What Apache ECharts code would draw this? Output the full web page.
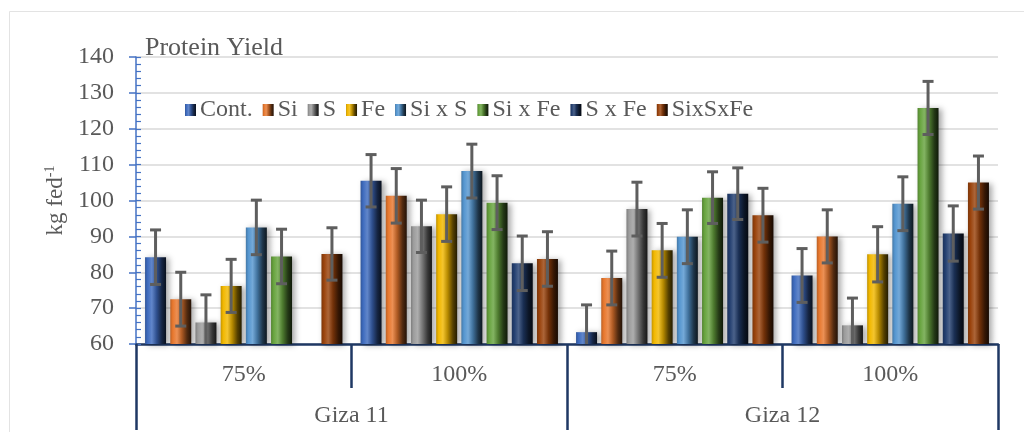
<!DOCTYPE html>
<html>
<head>
<meta charset="utf-8">
<script src="https://cdn.jsdelivr.net/npm/echarts@6/dist/echarts.min.js"></script>
<style>html,body{margin:0;padding:0;background:#fff}#c{width:1024px;height:432px}</style>
</head>
<body>
<div id="c"></div>
<script>
// ---- data ----
var categories = ['75%', '100%', '75%', '100%'];
var cultivars = ['Giza 11', 'Giza 12'];
var seriesNames = ['Cont.', 'Si', 'S', 'Fe', 'Si x S', 'Si x Fe', 'S x Fe', 'SixSxFe'];
var yTicks = [60, 70, 80, 90, 100, 110, 120, 130, 140];

var contVals    = [84.2, 105.5, 63.3, 79.1];
var siVals      = [72.5, 101.3, 78.4, 90.0];
var sVals       = [66.0, 92.8, 97.6, 65.2];
var feVals      = [76.2, 96.2, 86.1, 85.0];
var sixsVals    = [92.5, 108.2, 89.9, 99.1];
var sixfeVals   = [84.4, 99.4, 100.8, 125.8];
var sxfeVals    = [59.5, 82.5, 101.9, 90.8];
var sixsxfeVals = [85.1, 83.7, 95.9, 105.0];

var contErr    = [7.6, 7.3, 7.6, 7.5];
var siErr      = [7.5, 7.6, 7.5, 7.4];
var sErr       = [7.7, 7.3, 7.5, 7.6];
var feErr      = [7.4, 7.6, 7.5, 7.7];
var sixsErr    = [7.6, 7.5, 7.5, 7.5];
var sixfeErr   = [7.6, 7.5, 7.2, 7.4];
var sxfeErr    = [null, 7.6, 7.2, 7.7];
var sixsxfeErr = [7.3, 7.6, 7.5, 7.4];

var allVals = [contVals, siVals, sVals, feVals, sixsVals, sixfeVals, sxfeVals, sixsxfeVals];
var allErr = [contErr, siErr, sErr, feErr, sixsErr, sixfeErr, sxfeErr, sixsxfeErr];
var baseColors = ['#3E6BBE', '#E8782E', '#9C9C9C', '#F2B800', '#5596D0', '#68A43F', '#233F70', '#9A430C'];

// ---- styling helpers ----
var FONT = '"Liberation Serif", "Times New Roman", serif';
var TXT = '#595959';
var BAR_W = 21, BAR_GAP = 0.2;

function rgb(hex){var n=parseInt(hex.slice(1),16);return [(n>>16)&255,(n>>8)&255,n&255];}
function mix(hex,f,toWhite){var c=rgb(hex);return 'rgb('+c.map(function(v){return Math.round(toWhite? v+(255-v)*f : v*f);}).join(',')+')';}
function grad(c){
  return new echarts.graphic.LinearGradient(0,0,1,0,[
    {offset:0,color:mix(c,0.8)},
    {offset:0.12,color:c},
    {offset:0.32,color:mix(c,0.18,true)},
    {offset:0.55,color:mix(c,0.75)},
    {offset:0.8,color:mix(c,0.35)},
    {offset:1,color:mix(c,0.15)}
  ]);
}

var series = seriesNames.map(function(name,i){
  return {
    name:name, type:'bar', xAxisIndex:0, yAxisIndex:0,
    barWidth:BAR_W, barGap:(BAR_GAP*100)+'%',
    data:allVals[i],
    itemStyle:{color:grad(baseColors[i]), shadowBlur:6, shadowColor:'rgba(0,0,0,0.35)', shadowOffsetX:3, shadowOffsetY:1},
    emphasis:{disabled:true}
  };
});

var errData = [];
allVals.forEach(function(vals,si){
  vals.forEach(function(v,ci){
    if(allErr[si][ci]!=null) errData.push([ci, si, v, allErr[si][ci]]);
  });
});

series.push({
  name:'err', type:'custom', xAxisIndex:0, yAxisIndex:0, z:10, clip:true,
  data:errData,
  encode:{x:0, y:2},
  renderItem:function(params, api){
    var ci=api.value(0), si=api.value(1), v=api.value(2), e=api.value(3);
    var pitch = BAR_W*(1+BAR_GAP);
    var off = (si-(seriesNames.length-1)/2)*pitch;
    var top = api.coord([ci, v+e]), bot = api.coord([ci, v-e]);
    var x = top[0]+off, cap=5.5;
    var st = {stroke:'#5E5E5E', lineWidth:3};
    return {type:'group', children:[
      {type:'line', shape:{x1:x,y1:top[1],x2:x,y2:bot[1]}, style:st},
      {type:'line', shape:{x1:x-cap,y1:top[1],x2:x+cap,y2:top[1]}, style:st},
      {type:'line', shape:{x1:x-cap,y1:bot[1],x2:x+cap,y2:bot[1]}, style:st}
    ]};
  }
});

var chart = echarts.init(document.getElementById('c'), null, {renderer:'canvas'});
chart.setOption({
  animation:false,
  backgroundColor:'#fff',
  textStyle:{fontFamily:FONT},
  graphic:[{type:'rect', shape:{x:9.5,y:11.5,width:1040,height:440}, style:{fill:'none', stroke:'#E3E3E3', lineWidth:1}, silent:true, z:-1}],
  title:{text:'Protein Yield', left:140, top:30, textStyle:{fontFamily:FONT, fontSize:26, fontWeight:'normal', color:TXT}},
  legend:{
    data:seriesNames, left:180, top:93, icon:'rect', itemWidth:11, itemHeight:12, itemGap:10,
    textStyle:{fontFamily:FONT, fontSize:24, color:TXT, padding:[0,0,0,-1]}
  },
  grid:{left:136, right:26, top:57, bottom:88},
  xAxis:[
    {type:'category', data:categories, position:'bottom',
     axisLine:{lineStyle:{color:'#1F3864', width:2.5}},
     axisTick:{show:true, interval:0, length:44, lineStyle:{color:'#1F3864', width:2.5}},
     axisLabel:{margin:19, fontFamily:FONT, fontSize:24, color:TXT},
     splitLine:{show:false}},
    {type:'category', data:cultivars, position:'bottom',
     axisLine:{show:false},
     axisTick:{show:true, interval:0, length:86, lineStyle:{color:'#1F3864', width:2.5}},
     axisLabel:{margin:60, fontFamily:FONT, fontSize:24, color:TXT},
     splitLine:{show:false}}
  ],
  yAxis:[
    {type:'value', min:yTicks[0], max:yTicks[yTicks.length-1], interval:10, position:'left',
     name:'{a|kg fed}{b|-1}', nameLocation:'middle', nameRotate:90, nameGap:66,
     nameTextStyle:{rich:{a:{fontFamily:FONT, fontSize:23, color:TXT}, b:{fontFamily:FONT, fontSize:14, color:TXT, verticalAlign:'top', padding:[0,0,10,0]}}},
     axisLine:{show:true, lineStyle:{color:'#4472C4', width:1.5}},
     axisTick:{show:true, length:7, lineStyle:{color:'#4472C4', width:1.5}},
     axisLabel:{margin:22, fontFamily:FONT, fontSize:24, color:TXT},
     splitLine:{show:true, lineStyle:{color:'#D9D9D9', width:1.5}}},
    {type:'value', min:yTicks[0], max:yTicks[yTicks.length-1], interval:2, position:'left',
     axisLine:{show:false},
     axisTick:{show:true, inside:true, length:5, lineStyle:{color:'#4472C4', width:1.2}},
     axisLabel:{show:false},
     splitLine:{show:false}}
  ],
  series:series
});
</script>
</body>
</html>
